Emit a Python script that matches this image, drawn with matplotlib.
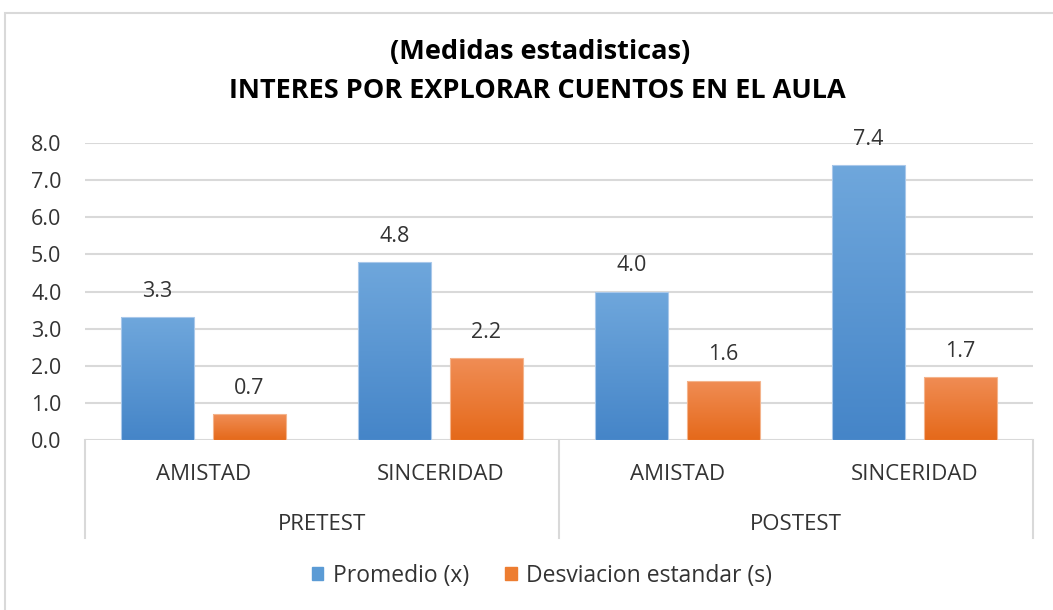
import numpy as np
import matplotlib
matplotlib.use("Agg")
import matplotlib.pyplot as plt
from matplotlib.patches import Rectangle
from matplotlib.lines import Line2D
from matplotlib.colors import LinearSegmentedColormap

# datos
groups = ["PRETEST", "POSTEST"]
subcats = ["AMISTAD", "SINCERIDAD", "AMISTAD", "SINCERIDAD"]
promedio = [3.3, 4.8, 4.0, 7.4]
desviacion = [0.7, 2.2, 1.6, 1.7]
series_names = ["Promedio (x)", "Desviacion estandar (s)"]
yticks = [0, 1, 2, 3, 4, 5, 6, 7, 8]

plt.rcParams['font.family'] = ['Open Sans', 'DejaVu Sans']
txt = "#333333"

fig = plt.figure(figsize=(10.53, 6.10), dpi=100)
W, H = 1053, 610
ax = fig.add_axes([85 / W, 1 - 440 / H, 948 / W, 297 / H])

# marco exterior
fig.patches.append(Rectangle((4.5 / W, -0.05), 1.1, 1 - 12.5 / H + 0.05,
                             transform=fig.transFigure, fill=False,
                             edgecolor="#d9d9d9", linewidth=1.5))

x = np.arange(len(subcats))
w = 0.308
off = 0.194

blue_cm = LinearSegmentedColormap.from_list("b", ["#4585c8", "#6fa7dc"])
orange_cm = LinearSegmentedColormap.from_list("o", ["#e5691a", "#f08d55"])

bars1 = ax.bar(x - off, promedio, w, color="none", edgecolor="#a9c8ea", linewidth=0.8, zorder=3)
bars2 = ax.bar(x + off, desviacion, w, color="none", edgecolor="#f4b48c", linewidth=0.8, zorder=3)

grad = np.linspace(0, 1, 256).reshape(-1, 1)
for bars, cm in ((bars1, blue_cm), (bars2, orange_cm)):
    for b in bars:
        x0, y0 = b.get_x(), b.get_y()
        bw, bh = b.get_width(), b.get_height()
        im = ax.imshow(grad, cmap=cm, origin="lower", aspect="auto",
                       extent=[x0, x0 + bw, y0, y0 + bh], zorder=2.5)
        im.set_clip_path(b)

for bars, vals in ((bars1, promedio), (bars2, desviacion)):
    for b, v in zip(bars, vals):
        ax.annotate(f"{v:.1f}", (b.get_x() + b.get_width() / 2, v),
                    xytext=(0, 18.5), textcoords="offset points",
                    ha="center", va="center", fontsize=15.5, color=txt)

ax.set_xlim(-0.5, 3.5)
ax.set_ylim(0, 8)
ax.set_yticks(yticks)
ax.set_yticklabels([f"{t:.1f}" for t in yticks], fontsize=15.5, color=txt)
ax.yaxis.grid(True, color="#d9d9d9", linewidth=1.5)
ax.set_axisbelow(True)
ax.tick_params(axis="y", length=0, pad=17)
ax.set_xticks([])
for s in ax.spines.values():
    s.set_visible(False)
ax.set_aspect("auto")

# eje de categorias multinivel
tr = ax.get_xaxis_transform()
box_bottom = -(538 - 440) / 297
for xv in (-0.5, 1.5, 3.5):
    ax.add_line(Line2D([xv, xv], [0, box_bottom], transform=tr, color="#d9d9d9",
                       linewidth=1.5, clip_on=False))
for i, lab in enumerate(subcats):
    ax.text(x[i], -(474 - 440) / 297, lab, transform=tr, ha="center", va="center",
            fontsize=16, color=txt)
for g, lab in enumerate(groups):
    ax.text(2 * g + 0.5, -(524 - 440) / 297, lab, transform=tr, ha="center", va="center",
            fontsize=16, color=txt)

# titulo
fig.text(540 / W, 1 - 52 / H, "(Medidas estadisticas)", ha="center", va="center",
         fontsize=19.5, fontweight="bold", color="#000000")
fig.text(537 / W, 1 - 91 / H, "INTERES POR EXPLORAR CUENTOS EN EL AULA", ha="center",
         va="center", fontsize=19.5, fontweight="bold", color="#000000")

# leyenda
handles = [Rectangle((0, 0), 1, 1, color="#5b9bd5"), Rectangle((0, 0), 1, 1, color="#ed7d31")]
fig.legend(handles, series_names, loc="center", bbox_to_anchor=(542 / W, 1 - 576 / H),
           ncol=2, frameon=False, fontsize=16.5, handlelength=0.5, handleheight=0.5,
           handletextpad=0.4, columnspacing=1.6, labelcolor=txt)

fig.savefig("out.png", dpi=100)
